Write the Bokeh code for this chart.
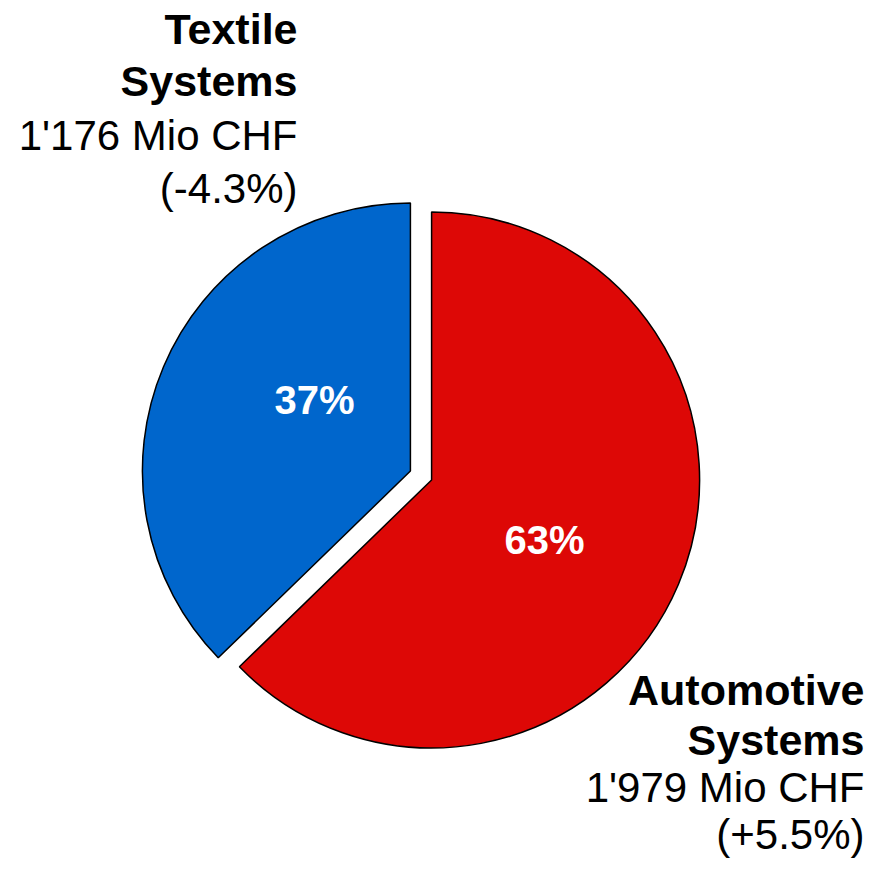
import numpy as np
from bokeh.plotting import figure
from bokeh.models import Range1d, ColumnDataSource
from bokeh.core.properties import value
from bokeh.embed import file_html
from bokeh.resources import INLINE

# ---- data -------------------------------------------------------------
segments = ["Automotive Systems", "Textile Systems"]
name_line1 = ["Automotive", "Textile"]
name_line2 = ["Systems", "Systems"]
sales_mio_chf = [1979, 1176]
sales_labels = ["1'979 Mio CHF", "1'176 Mio CHF"]
change_labels = ["(+5.5%)", "(-4.3%)"]
share_labels = ["63%", "37%"]
colors = ["#DD0806", "#0066CC"]

# ---- layout constants (data units == screen px, y measured upward) ----
W, H = 867, 863
FONT = "Liberation Sans"
TXT_SHIFT = 16.5            # compensation for rendered baseline position
cx, cy = 420.5, H - 475.0   # pie centre
R = 268
EXPLODE = 11.5

def sy(screen_y):
    """screen y (downward) -> data y (upward), for text baselines"""
    return H - (screen_y - TXT_SHIFT)

vals = np.array(sales_mio_chf, dtype=float)
frac = vals / vals.sum()
cum1 = np.cumsum(frac) * 360.0          # clockwise degrees from 12 o'clock
cum0 = cum1 - frac * 360.0
start = np.deg2rad(90.0 - cum1)
end = np.deg2rad(90.0 - cum0)
mid = np.deg2rad(90.0 - (cum0 + cum1) / 2.0)
xs = cx + EXPLODE * np.cos(mid)
ys = cy + EXPLODE * np.sin(mid)

src = ColumnDataSource(dict(x=xs, y=ys, start=start, end=end, color=colors,
                            seg=segments))

p = figure(width=W, height=H, x_range=Range1d(0, W), y_range=Range1d(0, H),
           output_backend="svg", toolbar_location=None, min_border=0)
p.axis.visible = False
p.grid.visible = False
p.outline_line_color = None
p.background_fill_color = "white"
p.border_fill_color = "white"

p.wedge(x="x", y="y", radius=R, start_angle="start", end_angle="end",
        fill_color="color", line_color="black", line_width=1.5, source=src)

# share labels inside slices
share_x = [544, 314]
share_y = [sy(556), sy(416)]
p.text(x=share_x, y=share_y, text=share_labels, text_font=value(FONT),
       text_font_style="bold", text_font_size="40px", text_color="white",
       text_align="center", text_baseline="alphabetic")

# outside labels
label_right = [864, 297]
baselines = [[706, 756, 803, 850], [45, 97, 151, 204]]
for i in range(len(segments)):
    xr = label_right[i]
    b = baselines[i]
    p.text(x=[xr, xr], y=[sy(b[0]), sy(b[1])],
           text=[name_line1[i], name_line2[i]], text_font=value(FONT),
           text_font_style="bold", text_font_size="43px", text_color="black",
           text_align="right", text_baseline="alphabetic")
    p.text(x=[xr, xr], y=[sy(b[2]), sy(b[3])],
           text=[sales_labels[i], change_labels[i]], text_font=value(FONT),
           text_font_style="normal", text_font_size="42px", text_color="black",
           text_align="right", text_baseline="alphabetic")

open("out.html", "w").write(file_html(p, INLINE))
